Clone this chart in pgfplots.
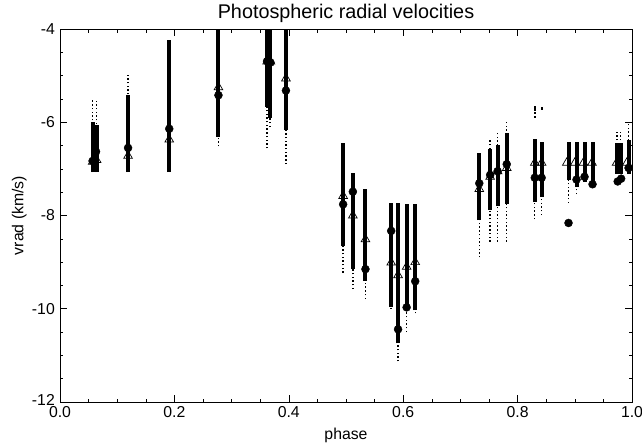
\documentclass[border=0pt]{standalone}
\usepackage{fontspec}
\setmainfont{Liberation Sans}
\usepackage{pgfplots}
\usepackage{pgfplotstable}
\pgfplotsset{compat=1.18}

% velocity spread per phase: dense core (dlo..dhi), sparse tail (slo..shi)
\pgfplotstableread{
x     dlo    dhi    slo    shi
0.057 -7.07  -6.00  -7.07  -5.52
0.064 -7.07  -6.05  -7.07  -5.55
0.119 -7.07  -5.42  -7.07  -4.99
0.191 -7.07  -4.24  -7.07  -4.24
0.277 -6.31  -3.90  -6.52  -3.90
0.362 -5.67  -3.90  -6.56  -3.90
0.367 -5.90  -3.90  -6.10  -3.90
0.395 -6.17  -3.97  -6.90  -3.97
0.495 -8.65  -6.45  -9.23  -6.45
0.512 -9.15  -7.09  -9.58  -7.09
0.534 -9.40  -7.44  -9.79  -7.44
0.579 -9.96  -7.74  -10.01 -7.74
0.591 -10.74 -7.74  -11.13 -7.74
0.606 -10.03 -7.75  -10.50 -7.75
0.621 -10.03 -7.75  -10.10 -7.75
0.733 -8.10  -6.67  -8.90  -6.67
0.752 -7.88  -6.58  -8.56  -6.38
0.765 -7.80  -6.49  -8.56  -6.18
0.781 -7.75  -6.24  -8.56  -5.95
0.830 -7.70  -6.35  -8.08  -6.35
0.842 -7.60  -6.42  -7.99  -6.42
0.889 -7.24  -6.42  -7.73  -6.42
0.903 -7.38  -6.42  -7.54  -6.42
0.917 -7.28  -6.42  -7.28  -6.42
0.931 -7.28  -6.42  -7.28  -6.42
0.974 -7.10  -6.45  -7.10  -6.20
0.980 -7.10  -6.45  -7.10  -6.20
0.994 -7.10  -6.38  -7.10  -6.02
}\bands

\pgfplotstableread{
x     y
0.057 -6.83
0.063 -6.63
0.119 -6.55
0.191 -6.14
0.277 -5.42
0.362 -4.69
0.368 -4.72
0.395 -5.32
0.495 -7.76
0.512 -7.49
0.534 -9.15
0.579 -8.33
0.591 -10.44
0.606 -9.97
0.621 -9.41
0.733 -7.31
0.752 -7.13
0.765 -7.05
0.781 -6.90
0.830 -7.19
0.842 -7.19
0.889 -8.16
0.903 -7.23
0.917 -7.17
0.931 -7.33
0.975 -7.27
0.981 -7.21
0.994 -6.98
}\circles

\pgfplotstableread{
x     y
0.057 -6.85
0.064 -6.81
0.119 -6.72
0.191 -6.37
0.277 -5.25
0.362 -4.70
0.368 -4.70
0.395 -5.06
0.495 -7.58
0.512 -8.00
0.534 -8.51
0.579 -9.01
0.591 -9.28
0.606 -9.10
0.621 -9.00
0.733 -7.43
0.752 -7.17
0.765 -7.05
0.781 -6.98
0.830 -6.87
0.842 -6.87
0.886 -6.87
0.900 -6.87
0.915 -6.87
0.930 -6.87
0.973 -6.87
0.991 -6.87
}\triangles

\pgfplotstableread{
x     y
0.830 -5.67
0.830 -5.72
0.830 -5.80
0.830 -5.88
0.842 -5.70
}\strays

\begin{document}
\begin{tikzpicture}
\path[use as bounding box] (-60bp,-45bp) rectangle (582bp,402bp);
\begin{axis}[
    scale only axis,
    width=572bp, height=373bp,
    xmin=0, xmax=1, ymin=-12, ymax=-4,
    xtick={0,0.2,0.4,0.6,0.8,1},
    xticklabels={0.0,0.2,0.4,0.6,0.8,1.0},
    ytick={-12,-10,-8,-6,-4},
    yticklabels={\raisebox{3.5bp}{-12},-10,-8,-6,-4},
    minor x tick num=3, minor y tick num=3,
    tick align=inside,
    major tick length=7bp, minor tick length=3.5bp,
    axis line style={line width=0.8bp},
    every tick/.style={black, line width=0.6bp},
    tick label style={font=\fontsize{15.8bp}{18bp}\selectfont},
    label style={font=\fontsize{15.8bp}{18bp}\selectfont},
    xticklabel style={anchor=base, yshift=-16bp},
    yticklabel style={anchor=east, inner sep=0pt, xshift=-5bp},
    title={Photospheric radial velocities},
    title style={at={(axis description cs:0.5,1)}, anchor=base, yshift=5bp,
        inner sep=0pt, font=\fontsize{19.8bp}{22bp}\selectfont},
    xlabel={phase},
    xlabel style={at={(axis description cs:0.5,0)}, anchor=base, yshift=-38bp, inner sep=0pt},
    ylabel={vrad (km/s)},
    ylabel style={at={(axis description cs:-0.0642,0.5)}, anchor=base, inner sep=0pt},
]
% sparse tails
\addplot[draw=none, mark=none,
    error bars/.cd, y dir=plus, y explicit, error mark=none,
    error bar style={draw=black, line width=1.4bp, dash pattern=on 1.4bp off 2.3bp}]
    table[x=x, y=slo, y error expr=\thisrow{shi}-\thisrow{slo}] {\bands};
% dense cores
\addplot[draw=none, mark=none,
    error bars/.cd, y dir=plus, y explicit, error mark=none,
    error bar style={draw=black, line width=4bp}]
    table[x=x, y=dlo, y error expr=\thisrow{dhi}-\thisrow{dlo}] {\bands};
\addplot[only marks, mark=square*, mark size=0.7bp, black] table {\strays};
\addplot[only marks, mark=triangle, mark size=5bp, black, mark options={line width=0.7bp, fill=none}] table {\triangles};
\addplot[only marks, mark=*, mark size=4bp, black] table {\circles};
\end{axis}
\end{tikzpicture}
\end{document}
